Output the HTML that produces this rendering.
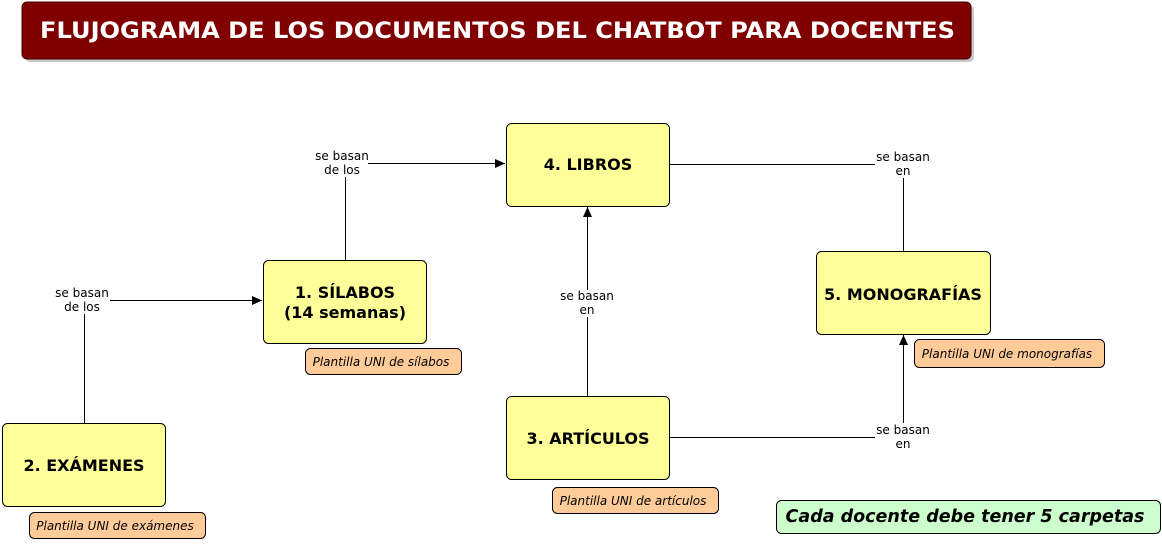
<!DOCTYPE html>
<html><head><meta charset="utf-8"><style>
body{margin:0;background:#fff;width:1162px;height:540px;overflow:hidden}
svg text{font-family:"DejaVu Sans","Liberation Sans",sans-serif}
</style></head><body>
<svg width="1162" height="540" viewBox="0 0 1162 540" xmlns="http://www.w3.org/2000/svg">
<defs><marker id="a" markerWidth="12" markerHeight="12" refX="10" refY="6" orient="auto" markerUnits="userSpaceOnUse"><path d="M0,1.5 L10,6 L0,10.5 Z" fill="#000"/></marker></defs>
<rect x="25" y="5" width="949" height="57" rx="5" fill="#c8c8c8"/>
<rect x="22" y="2" width="949" height="57" rx="5" fill="#800000" stroke="#400" />
<text x="40" y="38" textLength="915" lengthAdjust="spacingAndGlyphs" fill="#fff" font-size="22" font-weight="bold">FLUJOGRAMA DE LOS DOCUMENTOS DEL CHATBOT PARA DOCENTES</text>
<g stroke="#000" stroke-width="1" fill="none">
<path d="M345.5,260 V177"/><path d="M368,163.5 H505" marker-end="url(#a)"/>
<path d="M84.5,423 V314"/><path d="M110,300.5 H262" marker-end="url(#a)"/>
<path d="M587.5,396 V317"/><path d="M587.5,290 V207" marker-end="url(#a)"/>
<path d="M669,164.5 H875"/><path d="M903.5,178 V251"/>
<path d="M669,437.5 H875"/><path d="M903.5,423 V335" marker-end="url(#a)"/>
</g>
<g font-size="12" text-anchor="middle" fill="#000">
<text x="342" y="160">se basan</text><text x="342" y="174">de los</text>
<text x="82" y="297">se basan</text><text x="82" y="311">de los</text>
<text x="587" y="300">se basan</text><text x="587" y="314">en</text>
<text x="903" y="161">se basan</text><text x="903" y="175">en</text>
<text x="903" y="434">se basan</text><text x="903" y="448">en</text>
</g>
<g fill="#ffff99" stroke="#000">
<rect x="506.5" y="123.5" width="163" height="83" rx="5"/>
<rect x="263.5" y="260.5" width="163" height="83" rx="5"/>
<rect x="2.5" y="423.5" width="163" height="83" rx="5"/>
<rect x="506.5" y="396.5" width="163" height="83" rx="5"/>
<rect x="816.5" y="251.5" width="174" height="83" rx="5"/>
</g>
<g font-size="16" font-weight="bold" text-anchor="middle">
<text x="588" y="170">4. LIBROS</text>
<text x="345" y="298">1. SÍLABOS</text><text x="345" y="318">(14 semanas)</text>
<text x="84" y="471">2. EXÁMENES</text>
<text x="588" y="444">3. ARTÍCULOS</text>
<text x="903" y="300">5. MONOGRAFÍAS</text>
</g>
<g fill="#ffcc99" stroke="#000">
<rect x="305.5" y="348.5" width="156" height="26" rx="5"/>
<rect x="29.5" y="512.5" width="176" height="26" rx="5"/>
<rect x="552.5" y="487.5" width="166" height="26" rx="5"/>
<rect x="914.5" y="339.5" width="190" height="28" rx="5"/>
</g>
<g font-size="12" font-style="italic" text-anchor="middle">
<text x="381" y="366">Plantilla UNI de sílabos</text>
<text x="115" y="530">Plantilla UNI de exámenes</text>
<text x="633" y="505">Plantilla UNI de artículos</text>
<text x="1007" y="358">Plantilla UNI de monografías</text>
</g>
<rect x="776.5" y="500.5" width="384" height="33" rx="5" fill="#ccffcc" stroke="#000"/>
<text x="965" y="522" text-anchor="middle" font-size="17.5" font-weight="bold" font-style="italic">Cada docente debe tener 5 carpetas</text>
</svg>
</body></html>
